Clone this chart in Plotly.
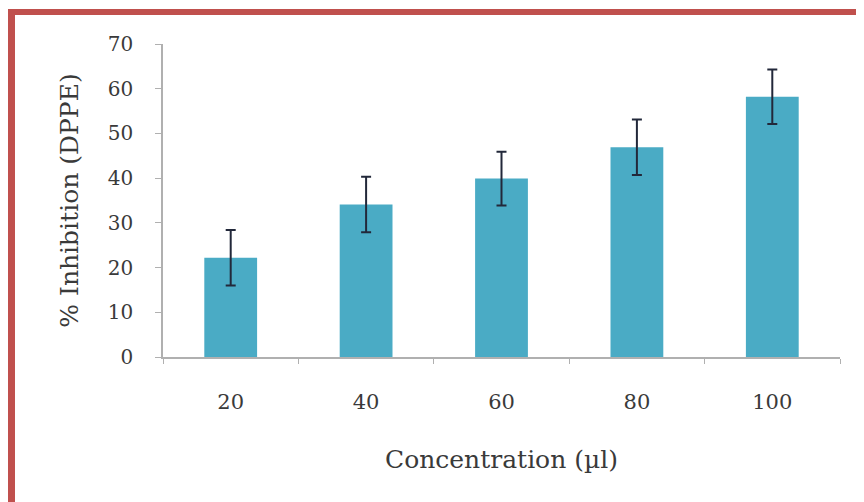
import plotly.graph_objects as go

categories = ["20", "40", "60", "80", "100"]
inhibition = [22.2, 34.1, 39.9, 46.9, 58.2]
error = [6.2, 6.2, 6.0, 6.2, 6.1]
y_ticks = [0, 10, 20, 30, 40, 50, 60, 70]

# page body adds an 8px offset, so the figure is sized to fit the window
W, H = 856, 494
L, R, T, B = 155, 24, 36, 145
pw, ph = W - L - R, H - T - B

def px(x):
    return (x - L) / pw

def py(y):
    return (H - B - y) / ph

fig = go.Figure()
fig.add_trace(go.Bar(
    x=categories, y=inhibition,
    marker=dict(color="#4AABC5", line=dict(width=0)),
    width=0.39,
    error_y=dict(type="data", array=error, visible=True, color="#22283A", thickness=2, width=5),
))

border = "#C0504D"
font_fam = "DejaVu Serif"
txt = "#3A3A3A"
fig.update_layout(
    width=W, height=H,
    margin=dict(l=L, r=R, t=T, b=B),
    paper_bgcolor="white", plot_bgcolor="white",
    showlegend=False,
    font=dict(family=font_fam, color=txt),
    xaxis=dict(
        type="category",
        showline=True, linecolor="#B0B0B0", linewidth=1.5,
        ticks="outside", tickson="boundaries", ticklen=5, tickcolor="#B0B0B0",
        tickfont=dict(size=21, color=txt),
        ticklabelstandoff=25,
        title=dict(text="Concentration (µl)", font=dict(size=25, color=txt), standoff=38),
        showgrid=False,
    ),
    yaxis=dict(
        range=[0, 70], tickvals=y_ticks,
        showline=True, linecolor="#B0B0B0", linewidth=1.5,
        ticks="outside", ticklen=6, tickcolor="#B0B0B0",
        tickfont=dict(size=20, color=txt),
        ticklabelstandoff=18,
        title=dict(text="% Inhibition (DPPE)", font=dict(size=25, color=txt), standoff=22),
        showgrid=False, zeroline=False,
    ),
    shapes=[
        dict(type="rect", xref="paper", yref="paper", x0=px(0), x1=px(7), y0=py(H + 10), y1=py(1),
             fillcolor=border, line=dict(width=0), layer="above"),
        dict(type="rect", xref="paper", yref="paper", x0=px(0), x1=px(W + 10), y0=py(7), y1=py(1),
             fillcolor=border, line=dict(width=0), layer="above"),
    ],
)

fig.write_html("out.html")
